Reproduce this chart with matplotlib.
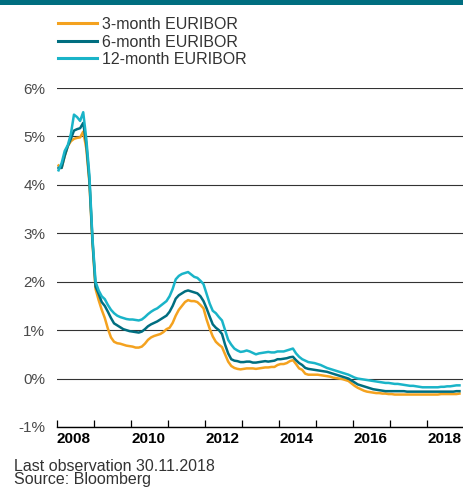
import numpy as np
import matplotlib
matplotlib.use("Agg")
import matplotlib.pyplot as plt
from matplotlib.lines import Line2D
from matplotlib.patches import Rectangle

# ---- data: monthly values (%), Jan 2008 .. Nov 2018 ----
eur3m_2008 = [4.40, 4.35, 4.60, 4.80, 4.90, 4.95, 4.97, 4.98, 5.10, 4.75, 4.05, 2.80]
eur3m_2009 = [1.85, 1.62, 1.42, 1.25, 1.03, 0.85, 0.76, 0.73, 0.72, 0.70, 0.68, 0.67]
eur3m_2010 = [0.66, 0.64, 0.64, 0.66, 0.72, 0.80, 0.85, 0.88, 0.90, 0.92, 0.96, 1.02]
eur3m_2011 = [1.05, 1.15, 1.30, 1.42, 1.50, 1.58, 1.62, 1.60, 1.60, 1.58, 1.52, 1.45]
eur3m_2012 = [1.22, 1.03, 0.87, 0.76, 0.70, 0.65, 0.50, 0.35, 0.26, 0.22, 0.20, 0.19]
eur3m_2013 = [0.20, 0.21, 0.21, 0.21, 0.20, 0.21, 0.22, 0.23, 0.23, 0.24, 0.24, 0.28]
eur3m_2014 = [0.30, 0.30, 0.32, 0.36, 0.38, 0.30, 0.21, 0.18, 0.10, 0.08, 0.08, 0.08]
eur3m_2015 = [0.08, 0.07, 0.06, 0.05, 0.04, 0.02, 0.01, 0.00, -0.01, -0.03, -0.05, -0.10]
eur3m_2016 = [-0.15, -0.19, -0.22, -0.25, -0.27, -0.28, -0.29, -0.30, -0.30, -0.31, -0.31, -0.32]
eur3m_2017 = [-0.32, -0.33, -0.33, -0.33, -0.33, -0.33, -0.33, -0.33, -0.33, -0.33, -0.33, -0.33]
eur3m_2018 = [-0.33, -0.33, -0.33, -0.33, -0.32, -0.32, -0.32, -0.32, -0.32, -0.32, -0.31]

eur6m_2008 = [4.35, 4.35, 4.60, 4.80, 4.95, 5.12, 5.15, 5.17, 5.28, 4.85, 4.10, 2.85]
eur6m_2009 = [1.90, 1.75, 1.58, 1.50, 1.38, 1.25, 1.14, 1.10, 1.06, 1.02, 1.00, 0.98]
eur6m_2010 = [0.97, 0.96, 0.95, 0.97, 1.02, 1.08, 1.12, 1.15, 1.18, 1.22, 1.26, 1.30]
eur6m_2011 = [1.38, 1.50, 1.65, 1.72, 1.76, 1.80, 1.82, 1.80, 1.78, 1.76, 1.70, 1.60]
eur6m_2012 = [1.45, 1.28, 1.12, 1.05, 1.00, 0.92, 0.70, 0.52, 0.40, 0.37, 0.36, 0.34]
eur6m_2013 = [0.34, 0.35, 0.35, 0.33, 0.33, 0.34, 0.35, 0.36, 0.35, 0.36, 0.37, 0.40]
eur6m_2014 = [0.40, 0.41, 0.42, 0.44, 0.45, 0.38, 0.32, 0.28, 0.22, 0.20, 0.19, 0.18]
eur6m_2015 = [0.17, 0.16, 0.15, 0.14, 0.12, 0.10, 0.08, 0.06, 0.04, 0.02, 0.00, -0.04]
eur6m_2016 = [-0.08, -0.12, -0.14, -0.16, -0.18, -0.20, -0.22, -0.23, -0.24, -0.25, -0.26, -0.26]
eur6m_2017 = [-0.26, -0.26, -0.26, -0.26, -0.26, -0.27, -0.27, -0.27, -0.27, -0.27, -0.27, -0.27]
eur6m_2018 = [-0.27, -0.27, -0.27, -0.27, -0.27, -0.27, -0.27, -0.27, -0.27, -0.26, -0.26]

eur12m_2008 = [4.30, 4.45, 4.70, 4.82, 5.05, 5.45, 5.40, 5.32, 5.50, 4.95, 4.20, 2.90]
eur12m_2009 = [2.00, 1.82, 1.70, 1.64, 1.52, 1.42, 1.35, 1.30, 1.27, 1.25, 1.23, 1.22]
eur12m_2010 = [1.22, 1.21, 1.20, 1.22, 1.27, 1.33, 1.38, 1.42, 1.45, 1.50, 1.55, 1.60]
eur12m_2011 = [1.70, 1.85, 2.05, 2.12, 2.16, 2.18, 2.20, 2.15, 2.10, 2.08, 2.02, 1.95]
eur12m_2012 = [1.75, 1.55, 1.40, 1.35, 1.27, 1.20, 1.00, 0.80, 0.70, 0.62, 0.58, 0.55]
eur12m_2013 = [0.56, 0.58, 0.56, 0.53, 0.50, 0.52, 0.53, 0.54, 0.55, 0.54, 0.54, 0.56]
eur12m_2014 = [0.56, 0.56, 0.58, 0.60, 0.62, 0.52, 0.45, 0.40, 0.37, 0.34, 0.33, 0.32]
eur12m_2015 = [0.30, 0.28, 0.25, 0.22, 0.20, 0.18, 0.16, 0.14, 0.12, 0.10, 0.08, 0.05]
eur12m_2016 = [0.02, 0.00, -0.01, -0.02, -0.03, -0.04, -0.05, -0.06, -0.07, -0.08, -0.09, -0.09]
eur12m_2017 = [-0.10, -0.11, -0.11, -0.12, -0.13, -0.14, -0.15, -0.15, -0.16, -0.17, -0.18, -0.18]
eur12m_2018 = [-0.18, -0.18, -0.18, -0.18, -0.17, -0.17, -0.16, -0.16, -0.15, -0.14, -0.14]

series_labels = ["3-month EURIBOR", "6-month EURIBOR", "12-month EURIBOR"]
year_ticks = [2008, 2010, 2012, 2014, 2016, 2018]
y_ticks = [-1, 0, 1, 2, 3, 4, 5, 6]
footnote_lines = ["Last observation 30.11.2018", "Source: Bloomberg"]

eur3m = (eur3m_2008 + eur3m_2009 + eur3m_2010 + eur3m_2011 + eur3m_2012 + eur3m_2013
         + eur3m_2014 + eur3m_2015 + eur3m_2016 + eur3m_2017 + eur3m_2018)
eur6m = (eur6m_2008 + eur6m_2009 + eur6m_2010 + eur6m_2011 + eur6m_2012 + eur6m_2013
         + eur6m_2014 + eur6m_2015 + eur6m_2016 + eur6m_2017 + eur6m_2018)
eur12m = (eur12m_2008 + eur12m_2009 + eur12m_2010 + eur12m_2011 + eur12m_2012 + eur12m_2013
          + eur12m_2014 + eur12m_2015 + eur12m_2016 + eur12m_2017 + eur12m_2018)

t = 2008 + (np.arange(len(eur3m)) + 0.5) / 12.0

# ---- styling ----
C3 = "#F4A21F"
C6 = "#006E80"
C12 = "#1AB4C8"
plt.rcParams["font.family"] = ["Liberation Sans", "DejaVu Sans"]

fig = plt.figure(figsize=(4.63, 4.88), dpi=100)
W, H = 463, 488
ax = fig.add_axes([57 / W, 1 - 427 / H, 406 / W, 339 / H])

# top band
fig.add_artist(Rectangle((0, 1 - 5 / H), 1, 5 / H, transform=fig.transFigure,
                         color=C6, lw=0))

lines = []
for vals, col in zip([eur3m, eur6m, eur12m], [C3, C6, C12]):
    ln, = ax.plot(t, vals, color=col, lw=1.8, solid_joinstyle="round", zorder=3)
    lines.append(ln)

ax.set_xlim(2008, 2018.97)
ax.set_ylim(-1, 6)
ax.set_yticks(y_ticks)
ax.set_yticklabels([f"{v}%" for v in y_ticks])
ax.grid(axis="y", color="#333333", lw=0.8, zorder=1)
for s in ["top", "right", "left"]:
    ax.spines[s].set_visible(False)
ax.spines["bottom"].set_color("black")
ax.spines["bottom"].set_linewidth(1.0)
ax.tick_params(axis="y", length=0, pad=8.5, labelsize=11, labelcolor="#4a4a4a")
ax.set_xticks(year_ticks)
ax.set_xticks([y + 1 for y in year_ticks[:-1]], minor=True)
ax.set_xticklabels([str(y) for y in year_ticks], fontweight="bold", fontsize=11)
for lab in ax.get_xticklabels():
    lab.set_horizontalalignment("left")
ax.tick_params(axis="x", which="both", direction="in", length=5, width=0.9,
               color="black", pad=3.5)

# legend (manual)
leg_y = [22.7, 40.7, 58.3]
for ln, lab, yy in zip(lines, series_labels, leg_y):
    fig.add_artist(Line2D([58 / W, 97 / W], [1 - yy / H, 1 - yy / H],
                          transform=fig.transFigure, color=ln.get_color(), lw=2.2))
    fig.text(102 / W, 1 - (yy + 1.5) / H, lab, fontsize=11.5, color="#333333",
             va="center", ha="left")

fig.text(14 / W, 1 - 487 / H, "\n".join(footnote_lines), fontsize=11.5,
         color="#333333", va="bottom", ha="left", linespacing=0.8)

fig.savefig("out.png", dpi=100)
